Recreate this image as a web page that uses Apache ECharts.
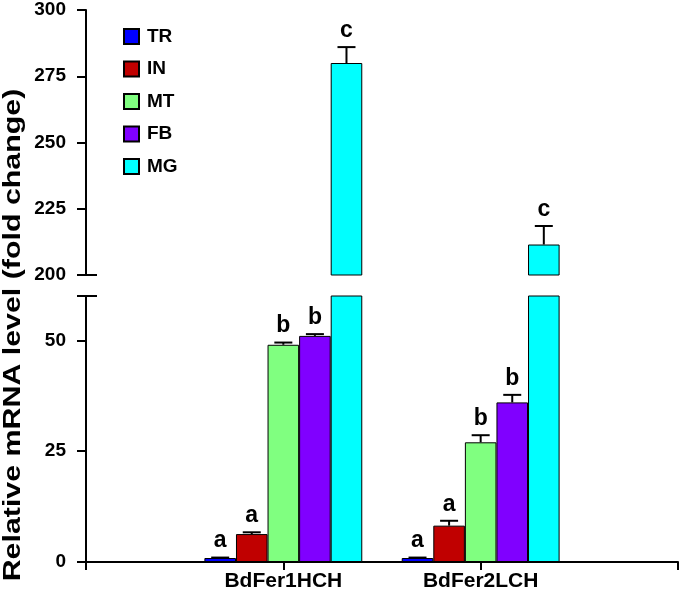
<!DOCTYPE html>
<html><head><meta charset="utf-8">
<script src="https://cdn.jsdelivr.net/npm/echarts@6/dist/echarts.min.js"></script>
<style>html,body{margin:0;padding:0;background:#fff}#c{width:686px;height:600px}</style>
</head><body><div id="c"></div>
<script>
// ---- data ----
const categories = ['', 'BdFer1HCH', 'BdFer2LCH', ''];
const groupCats = [1, 2];
const seriesNames = ['TR', 'IN', 'MT', 'FB', 'MG'];
const TR = [0.9, 0.9];     const TR_err = [0.1, 0.1];   const TR_sig = ['a', 'a'];
const IN = [6.3, 8.2];     const IN_err = [0.4, 1.1];   const IN_sig = ['a', 'a'];
const MT = [49.0, 27.0];   const MT_err = [0.5, 1.6];   const MT_sig = ['b', 'b'];
const FB = [51.0, 36.0];   const FB_err = [0.4, 1.7];   const FB_sig = ['b', 'b'];
const MG = [280.0, 211.5]; const MG_err = [6.0, 7.0];   const MG_sig = ['c', 'c'];
const lowerRange = [0, 60];
const upperRange = [200, 300];
const lowerTickLabels = [0, 25, 50];
const upperTickLabels = [200, 225, 250, 275, 300];
const yTitle = 'Relative mRNA level (fold change)';

const values = [TR, IN, MT, FB, MG];
const errs = [TR_err, IN_err, MT_err, FB_err, MG_err];
const sigs = [TR_sig, IN_sig, MT_sig, FB_sig, MG_sig];
const colors = ['#0000FF', '#C00000', '#80FF80', '#8000FF', '#00FFFF'];

const FONT = '"Liberation Sans", Arial, sans-serif';
const chart = echarts.init(document.getElementById('c'), null, {renderer: 'canvas'});

function catData(arr, filter) {
  const d = categories.map(() => '-');
  groupCats.forEach((c, g) => { d[c] = filter(arr[g]) ? arr[g] : '-'; });
  return d;
}

const errItems = [];
const errLetters = [];
values.forEach((arr, si) => {
  groupCats.forEach((c, g) => {
    errItems.push([c, arr[g], errs[si][g], si]);
    errLetters.push(sigs[si][g]);
  });
});

function renderErr(params, api) {
  const cat = api.value(0), v = api.value(1), e = api.value(2), si = api.value(3);
  const cs = params.coordSys;
  const band = api.size([1, 0])[0];
  const bw = band * 0.8 / seriesNames.length;
  const base = api.coord([cat, v]);
  const x = base[0] + (si - (seriesNames.length - 1) / 2) * bw;
  const yBar = base[1];
  const yTop = api.coord([cat, v + e])[1];
  if (yTop < cs.y - 0.5 || yBar > cs.y + cs.height + 0.5) return null;
  const ls = {stroke: '#000', lineWidth: 2};
  return {
    type: 'group',
    children: [
      {type: 'line', shape: {x1: x, y1: yBar, x2: x, y2: yTop}, style: ls},
      {type: 'line', shape: {x1: x - 9, y1: yTop, x2: x + 9, y2: yTop}, style: ls},
      {type: 'text', x: x, y: yTop - 5, style: {
        text: errLetters[params.dataIndex], fill: '#000', fontSize: 23, fontWeight: 'bold',
        fontFamily: FONT, align: 'center', verticalAlign: 'bottom'}}
    ]
  };
}

const axisLineStyle = {color: '#000', width: 2};
const series = [];
seriesNames.forEach((name, si) => {
  const common = {
    name, type: 'bar', barGap: '0%', barCategoryGap: '20%', clip: true,
    itemStyle: {color: colors[si], borderColor: '#000', borderWidth: 1},
    emphasis: {disabled: true}
  };
  series.push(Object.assign({}, common, {xAxisIndex: 0, yAxisIndex: 0,
    data: catData(values[si], v => true)}));
  series.push(Object.assign({}, common, {xAxisIndex: 1, yAxisIndex: 1,
    data: catData(values[si], v => v >= upperRange[0])}));
});
series.push({type: 'custom', xAxisIndex: 0, yAxisIndex: 0, renderItem: renderErr, data: errItems, z: 10, silent: true});
series.push({type: 'custom', xAxisIndex: 1, yAxisIndex: 1, renderItem: renderErr, data: errItems, z: 10, silent: true});

const tickLabelStyle = {fontSize: 19, fontWeight: 'bold', color: '#000', fontFamily: FONT, margin: 20};

const option = {
  animation: false,
  backgroundColor: '#fff',
  textStyle: {fontFamily: FONT},
  grid: [
    {left: 86, right: 8, top: 296, bottom: 38, outerBoundsMode: 'none', containLabel: false},
    {left: 86, right: 8, top: 10, height: 265, outerBoundsMode: 'none', containLabel: false}
  ],
  legend: {
    data: seriesNames, orient: 'vertical', left: 118, top: 22,
    itemWidth: 15, itemHeight: 15, itemGap: 13.5, icon: 'rect', selectedMode: false,
    textStyle: {fontSize: 19, lineHeight: 19, fontWeight: 'bold', color: '#000', fontFamily: FONT, padding: [0, 0, 0, 3]}
  },
  xAxis: [
    {gridIndex: 0, type: 'category', data: categories, boundaryGap: false,
      axisLine: {lineStyle: axisLineStyle}, axisTick: {length: 8, lineStyle: axisLineStyle},
      axisLabel: {interval: 0, fontSize: 21, fontWeight: 'bold', color: '#000', fontFamily: FONT, margin: 9},
      splitLine: {show: false}},
    {gridIndex: 1, type: 'category', data: categories, boundaryGap: false, show: false}
  ],
  yAxis: [
    {gridIndex: 0, type: 'value', position: 'left', min: lowerRange[0], max: lowerRange[1], interval: 25,
      axisLine: {show: true, lineStyle: axisLineStyle},
      axisTick: {show: true, length: 9, lineStyle: axisLineStyle, customValues: lowerTickLabels.concat([lowerRange[1]])},
      axisLabel: Object.assign({customValues: lowerTickLabels}, tickLabelStyle),
      splitLine: {show: false}},
    {gridIndex: 1, type: 'value', position: 'left', min: upperRange[0], max: upperRange[1], interval: 25,
      axisLine: {show: true, lineStyle: axisLineStyle},
      axisTick: {show: true, length: 9, lineStyle: axisLineStyle, customValues: upperTickLabels},
      axisLabel: Object.assign({customValues: upperTickLabels}, tickLabelStyle),
      splitLine: {show: false}},
    {gridIndex: 0, type: 'value', position: 'left', min: lowerRange[0], max: lowerRange[1], interval: 25,
      axisLine: {show: false}, axisLabel: {show: false}, splitLine: {show: false},
      axisTick: {show: true, inside: true, length: 11, lineStyle: axisLineStyle, customValues: [lowerRange[1]]}},
    {gridIndex: 1, type: 'value', position: 'left', min: upperRange[0], max: upperRange[1], interval: 25,
      axisLine: {show: false}, axisLabel: {show: false}, splitLine: {show: false},
      axisTick: {show: true, inside: true, length: 11, lineStyle: axisLineStyle, customValues: [upperRange[0]]}}
  ],
  graphic: [{
    type: 'text', x: 14, y: 335, rotation: Math.PI / 2, scaleX: 1.32, silent: true,
    style: {text: yTitle, fill: '#000', fontSize: 23, fontWeight: 'bold', fontFamily: FONT,
      align: 'center', verticalAlign: 'middle'}
  }],
  series
};
chart.setOption(option);
</script></body></html>
